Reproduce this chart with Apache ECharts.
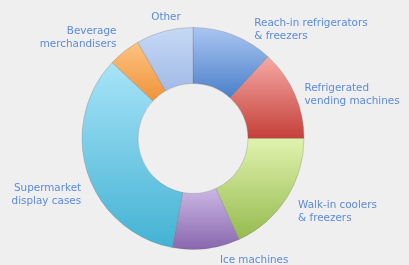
<!DOCTYPE html>
<html>
<head>
<meta charset="utf-8">
<script src="https://cdn.jsdelivr.net/npm/echarts@6/dist/echarts.min.js"></script>
<style>
  html, body { margin: 0; padding: 0; background: #efefef; }
  #chart { width: 409px; height: 265px; }
</style>
</head>
<body>
<div id="chart"></div>
<script>
// segment names, clockwise from 12 o'clock
const categories = [
  'Reach-in refrigerators\n& freezers',
  'Refrigerated\nvending machines',
  'Walk-in coolers\n& freezers',
  'Ice machines',
  'Supermarket\ndisplay cases',
  'Beverage\nmerchandisers',
  'Other'
]
// share of each segment (%)
const shares = [11.8, 13.2, 18.2, 9.8, 34.0, 4.7, 8.3]
// top / bottom colours of each segment's gradient
const topColors = ['#aac6f2', '#f6aaa6', '#e0f3ae', '#cbb8e4', '#a8e4f8', '#fcc482', '#c6d9f6']
const bottomColors = ['#4a7fc9', '#c43f38', '#95ba4e', '#8866ae', '#43b2d3', '#f0923a', '#a2bae6']

// small nudges so the labels sit where the original put them
const labelNudge = [[7, 8], [-12, 7], [-9, 6], [3, -2], [16, 18], [10, -3], [29, 0]]

const chart = echarts.init(document.getElementById('chart'))

const grad = (i) => new echarts.graphic.LinearGradient(0, 0, 0, 1, [
  { offset: 0, color: topColors[i] },
  { offset: 1, color: bottomColors[i] }
])

chart.setOption({
  backgroundColor: '#efefef',
  animation: false,
  series: [
    {
      type: 'pie',
      center: [193, 138.5],
      radius: [55, 111],
      startAngle: 90,
      clockwise: true,
      avoidLabelOverlap: false,
      itemStyle: {
        borderColor: 'rgba(110,110,110,0.35)',
        borderWidth: 0.8
      },
      label: {
        show: true,
        position: 'outside',
        color: '#5b8bd8',
        fontFamily: 'DejaVu Sans',
        fontSize: 10.4,
        lineHeight: 13
      },
      labelLine: { show: false, length: 14, length2: 4 },
      labelLayout: (p) => ({ dx: labelNudge[p.dataIndex][0], dy: labelNudge[p.dataIndex][1] }),
      emphasis: { disabled: true },
      data: categories.map((name, i) => ({
        name,
        value: shares[i],
        itemStyle: { color: grad(i) }
      }))
    }
  ]
})
</script>
</body>
</html>
